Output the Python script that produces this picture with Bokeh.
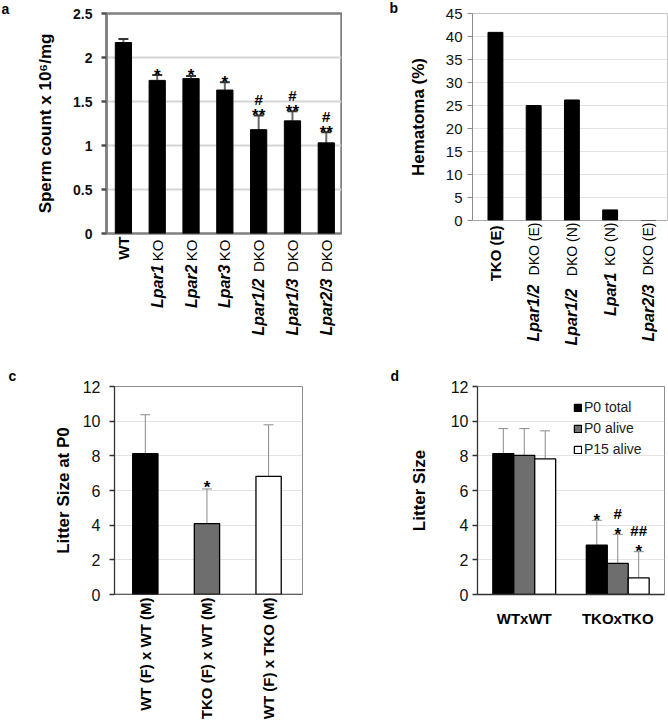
import math
from bokeh.plotting import figure
from bokeh.layouts import column, row
from bokeh.models import (ColumnDataSource, Whisker, TeeHead, Span, FixedTicker,
                          NumeralTickFormatter, Range1d, LinearAxis)
from bokeh.core.properties import value
from bokeh.embed import file_html
from bokeh.resources import INLINE

FONT = "Liberation Sans"

# ---------------- data ----------------
# panel a : sperm count
a_labels = [[("WT", "bold")],
            [("Lpar1", "bold italic"), ("KO", "normal")],
            [("Lpar2", "bold italic"), ("KO", "normal")],
            [("Lpar3", "bold italic"), ("KO", "normal")],
            [("Lpar1/2", "bold italic"), ("DKO", "normal")],
            [("Lpar1/3", "bold italic"), ("DKO", "normal")],
            [("Lpar2/3", "bold italic"), ("DKO", "normal")]]
a_values = [2.17, 1.74, 1.76, 1.63, 1.18, 1.28, 1.03]
a_err = [2.21, 1.80, 1.79, 1.72, 1.34, 1.39, 1.15]
a_star = ["", "*", "*", "*", "**", "**", "**"]
a_hash = ["", "", "", "", "#", "#", "#"]
a_ticks = [0, 0.5, 1, 1.5, 2, 2.5]

# panel b : hematoma
b_labels = [[("TKO (E)", "bold")],
            [("Lpar1/2", "bold italic"), ("DKO (E)", "normal")],
            [("Lpar1/2", "bold italic"), ("DKO (N)", "normal")],
            [("Lpar1", "bold italic"), ("KO (N)", "normal")],
            [("Lpar2/3", "bold italic"), ("DKO (E)", "normal")]]
b_values = [40.9, 25.0, 26.2, 2.3, 0.0]
b_ticks = [0, 5, 10, 15, 20, 25, 30, 35, 40, 45]

# panel c : litter size at P0
c_labels = [[("WT (F) x WT (M)", "bold")],
            [("TKO (F) x WT (M)", "bold")],
            [("WT (F) x TKO (M)", "bold")]]
c_values = [8.12, 4.09, 6.82]
c_err = [10.37, 6.09, 9.79]
c_colors = ["black", "#6e6e6e", "white"]
c_star = ["", "*", ""]
c_ticks = [0, 2, 4, 6, 8, 10, 12]

# panel d : litter size
d_groups = ["WTxWT", "TKOxTKO"]
d_series = ["P0 total", "P0 alive", "P15 alive"]
d_colors = ["black", "#6e6e6e", "white"]
d_total = [8.13, 2.85]
d_alive = [8.03, 1.79]
d_p15 = [7.82, 0.96]
d_total_err = [9.57, 4.28]
d_alive_err = [9.57, 3.47]
d_p15_err = [9.44, 2.47]
d_total_star = ["", "*"]
d_alive_star = ["", "*"]
d_p15_star = ["", "*"]
d_total_hash = ["", ""]
d_alive_hash = ["", "#"]
d_p15_hash = ["", "##"]
d_ticks = [0, 2, 4, 6, 8, 10, 12]

# ---------------- helpers ----------------
# advance widths (em) of Liberation Sans, used to stack the styled label parts
W_REG = {" ": .278, "(": .333, ")": .333, "D": .722, "K": .667, "O": .778, "E": .667,
         "N": .722, "W": .944, "T": .611, "F": .611, "M": .833, "x": .5}
W_BOLD = {" ": .278, "(": .333, ")": .333, "D": .722, "K": .722, "O": .778, "E": .667,
          "N": .722, "W": .944, "T": .611, "F": .611, "M": .833, "x": .556,
          "L": .611, "p": .611, "a": .556, "r": .389, "1": .556, "2": .556, "3": .556,
          "/": .278}


def text_w(s, style, size):
    tab = W_REG if style == "normal" else W_BOLD
    return sum(tab.get(ch, 0.6) for ch in s) * size


def make_fig(fw, fh, left, right, top, bottom, xr, yr):
    p = figure(frame_width=fw, frame_height=fh, min_border_left=left, min_border_right=right,
               min_border_top=top, min_border_bottom=bottom, x_range=Range1d(*xr),
               y_range=Range1d(*yr), output_backend="svg", toolbar_location=None, tools="")
    p.background_fill_color = "white"
    p.border_fill_color = "white"
    p.xgrid.visible = False
    p.xaxis.visible = False
    return p


def style_y(p, ticks, label, tick_size, tick_style, lab_standoff, ax_standoff,
            line_color, line_width, grid_color, grid_width, tick_color):
    ax = p.yaxis[0]
    ax.ticker = FixedTicker(ticks=ticks)
    ax.formatter = NumeralTickFormatter(format="0.[0]")
    ax.axis_label = label
    ax.axis_label_text_font = FONT
    ax.axis_label_text_font_style = "bold"
    ax.axis_label_text_font_size = "17px"
    ax.axis_label_text_color = "black"
    ax.axis_label_standoff = ax_standoff
    ax.major_label_text_font = FONT
    ax.major_label_text_font_size = tick_size
    ax.major_label_text_font_style = tick_style
    ax.major_label_text_color = "#111111"
    ax.major_label_standoff = lab_standoff
    ax.axis_line_color = line_color
    ax.axis_line_width = line_width
    ax.major_tick_out = 5
    ax.major_tick_in = 0
    ax.major_tick_line_color = tick_color
    ax.major_tick_line_width = line_width
    ax.minor_tick_line_color = None
    p.ygrid.grid_line_color = grid_color
    p.ygrid.grid_line_width = grid_width


def add_xlabels(p, xs, labels, sizes, start_off, gap=0.0):
    # rotated category labels built from differently styled parts; every group of parts
    # sharing a style and a distance from the frame is the tick-label row of one axis
    groups = {}
    for xi, parts in zip(xs, labels):
        off = start_off
        for txt, style in reversed(parts):
            key = (style, int(round(off)))
            groups.setdefault(key, []).append((xi, txt))
            off += text_w(txt, style, sizes[style]) + gap
    glist = []
    for (style, d), items in groups.items():
        ext = max(text_w(t, style, sizes[style]) for _, t in items)
        glist.append((d + ext, d, ext, style, items))
    glist.sort()
    pos = 0
    for far, d, ext, style, items in glist:
        standoff = int(round(d - pos))
        ax = LinearAxis(ticker=FixedTicker(ticks=[it[0] for it in items]),
                        major_label_overrides={t: s for t, s in items},
                        major_label_orientation=math.pi / 2, major_label_standoff=standoff,
                        major_label_text_font=FONT, major_label_text_font_style=style,
                        major_label_text_font_size="%dpx" % sizes[style],
                        major_label_text_color="black", axis_line_color=None,
                        major_tick_line_color=None, minor_tick_line_color=None,
                        major_tick_out=0, major_tick_in=0)
        p.add_layout(ax, "below")
        pos += int(round(standoff + ext))


def add_letter(p, letter, offset, standoff):
    p.title.text = letter
    p.title.align = "left"
    p.title.offset = offset
    p.title.standoff = standoff
    p.title.text_font = FONT
    p.title.text_font_size = "14px"
    p.title.text_font_style = "bold"
    p.title.text_color = "black"


def add_whisker(p, xs, lower, upper, stem_color, stem_w, cap_color, cap_w, cap_size):
    src = ColumnDataSource(dict(x=xs, lower=lower, upper=upper))
    w = Whisker(source=src, base="x", lower="lower", upper="upper", line_color=stem_color,
                line_width=stem_w, lower_head=None,
                upper_head=TeeHead(size=cap_size, line_color=cap_color, line_width=cap_w))
    p.add_layout(w)


def add_marks(p, xs, ys, texts, y_off, size):
    p.text(x=xs, y=ys, text=texts, text_align="center", text_baseline="alphabetic",
           y_offset=y_off, text_font=value(FONT), text_font_style="bold",
           text_font_size=size, text_color="black")


SIZES_A = {"bold": 15, "normal": 15, "bold italic": 16}
SIZES_B = {"bold": 15, "normal": 14, "bold italic": 16}

# ---------------- panel a ----------------
xa = list(range(len(a_values)))
pa = make_fig(235, 220, 106, 1, 12, 128, (-0.5, 6.45), (0, 2.5))
pa.outline_line_color = "#808080"
pa.outline_line_width = 2.5
style_y(pa, a_ticks, "Sperm count x 10\u2076/mg", "14px", "bold", 9, 15,
        "#808080", 2.5, "#d6d6d6", 2, "#505050")
pa.vbar(x=xa, top=a_values, width=0.48, fill_color="black", line_color="black")
add_whisker(pa, xa, a_values, a_err, "#6a6a6a", 2, "#333333", 2, 10)
add_marks(pa, xa, a_err, a_star, 0, "17px")
add_marks(pa, xa, a_err, a_hash, -16, "15px")
add_xlabels(pa, xa, a_labels, SIZES_A, 3)
add_letter(pa, "a", -105, -6)

# ---------------- panel b ----------------
xb = list(range(len(b_values)))
pb = make_fig(195, 207, 130, 1, 11, 142, (-0.6, 4.5), (0, 45))
pb.outline_line_color = "#c4c4c4"
pb.outline_line_width = 1
style_y(pb, b_ticks, "Hematoma (%)", "15px", "normal", 5, 15,
        "#8c8c8c", 1, "#e3e3e3", 1, "#8c8c8c")
pb.vbar(x=xb, top=b_values, width=0.39, fill_color="black", line_color="black")
pb.add_layout(Span(location=0, dimension="width", line_color="#8c8c8c", line_width=1))
add_xlabels(pb, xb, b_labels, SIZES_B, 2)
add_letter(pb, "b", -83, -5)

# ---------------- panel c ----------------
xc = list(range(len(c_values)))
pc = make_fig(188, 208, 114, 40, 22, 130, (-0.5, 2.55), (0, 12))
pc.outline_line_color = "#8c8c8c"
pc.outline_line_width = 1
style_y(pc, c_ticks, "Litter Size at P0", "16px", "normal", 9, 7,
        "#333333", 1.3, "#e3e3e3", 1, "#333333")
pc.vbar(x=xc, top=c_values, width=0.41, fill_color=c_colors, line_color="black",
        line_width=1.3)
add_whisker(pc, xc, c_values, c_err, "#8a8a8a", 1, "#8a8a8a", 1, 10)
pc.add_layout(Span(location=0, dimension="width", line_color="#333333", line_width=1.3))
add_marks(pc, xc, c_err, c_star, -1, "17px")
add_xlabels(pc, xc, c_labels, {"bold": 15}, 3)
add_letter(pc, "c", -106, 6)

# ---------------- panel d ----------------
pd_ = make_fig(187, 208, 135, 4, 22, 130, (-0.5, 1.5), (0, 12))
pd_.outline_line_color = "#8c8c8c"
pd_.outline_line_width = 1
style_y(pd_, d_ticks, "Litter Size", "16px", "normal", 4, 19,
        "#333333", 1.3, "#e3e3e3", 1, "#333333")
xd = list(range(len(d_groups)))
d_vals = [d_total, d_alive, d_p15]
d_errs = [d_total_err, d_alive_err, d_p15_err]
d_stars = [d_total_star, d_alive_star, d_p15_star]
d_hashes = [d_total_hash, d_alive_hash, d_p15_hash]
bw = 0.224
for k, (name, col, vals, errs, st, hs) in enumerate(zip(d_series, d_colors, d_vals, d_errs,
                                                       d_stars, d_hashes)):
    xs = [x + (k - 1) * bw for x in xd]
    pd_.vbar(x=xs, top=vals, width=bw, fill_color=col, line_color="black", line_width=1.3,
             legend_label=name)
    add_whisker(pd_, xs, vals, errs, "#8a8a8a", 1, "#8a8a8a", 1, 10)
    add_marks(pd_, xs, errs, st, 0, "17px")
    add_marks(pd_, xs, errs, hs, -21, "15px")
xax = pd_.xaxis[0]
xax.visible = True
xax.ticker = FixedTicker(ticks=xd)
xax.major_label_overrides = {i: g for i, g in zip(xd, d_groups)}
xax.major_label_text_font = FONT
xax.major_label_text_font_style = "bold"
xax.major_label_text_font_size = "15px"
xax.major_label_text_color = "black"
xax.major_label_standoff = 15
xax.major_tick_out = 0
xax.major_tick_in = 0
xax.minor_tick_line_color = None
xax.axis_line_color = "#333333"
xax.axis_line_width = 1.3
lg = pd_.legend[0]
lg.location = (96, 136)
lg.glyph_width = 9
lg.glyph_height = 9
lg.label_height = 18
lg.label_standoff = 2
lg.spacing = 3
lg.padding = 0
lg.margin = 0
lg.border_line_color = None
lg.background_fill_alpha = 0
lg.label_text_font = FONT
lg.label_text_font_size = "14px"
lg.label_text_color = "#222222"
add_letter(pd_, "d", -87, 6)

layout = column(row(pa, pb), row(pc, pd_))
open("out.html", "w").write(file_html(layout, INLINE))
